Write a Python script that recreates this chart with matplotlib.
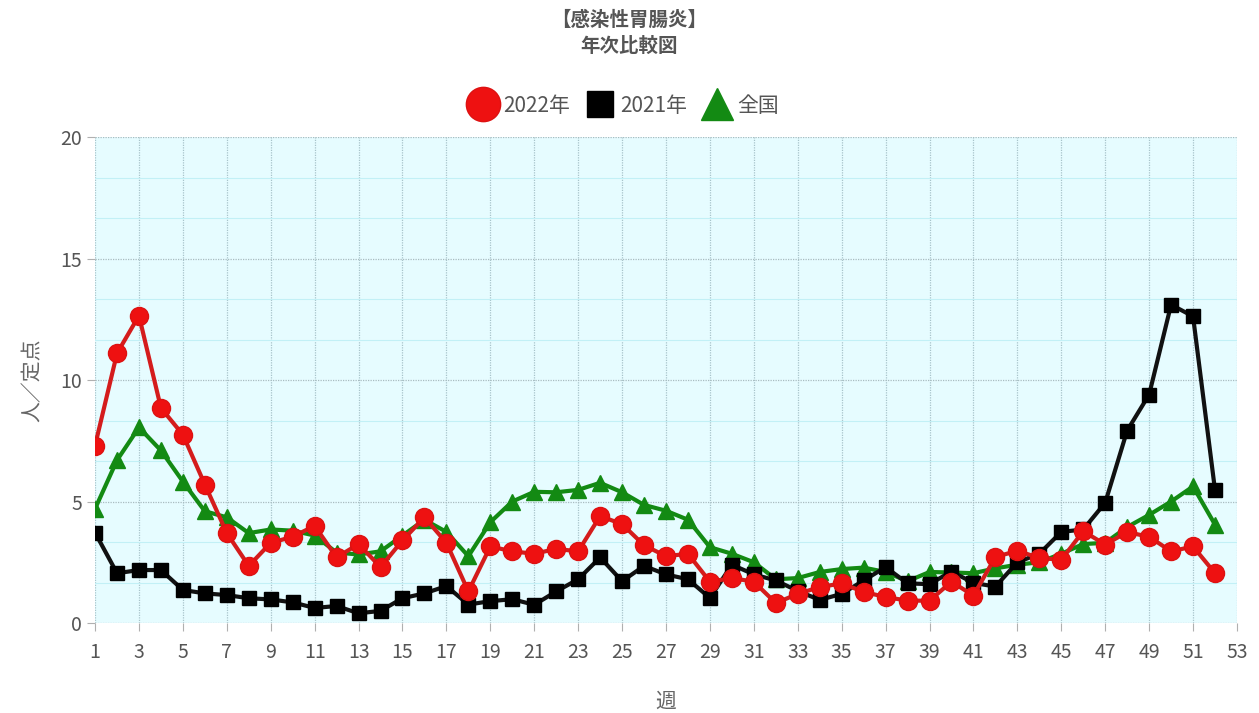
import matplotlib
matplotlib.use("Agg")
import matplotlib.pyplot as plt
from matplotlib.ticker import MultipleLocator

plt.rcParams['font.family'] = ['Noto Sans CJK JP', 'DejaVu Sans']

weeks = list(range(1, 53))

# 2022年 (red circles)
y2022 = [7.3, 11.1, 12.65, 8.85, 7.75, 5.7, 3.7, 2.35, 3.3, 3.55,
         4.0, 2.7, 3.25, 2.3, 3.4, 4.35, 3.3, 1.3, 3.15, 2.95,
         2.85, 3.05, 2.95, 4.4, 4.07, 3.2, 2.75, 2.85, 1.7, 1.85,
         1.7, 0.82, 1.2, 1.48, 1.63, 1.28, 1.07, 0.92, 0.92, 1.7,
         1.13, 2.72, 2.97, 2.68, 2.6, 3.78, 3.23, 3.74, 3.55, 2.95,
         3.15, 2.05]

# 2021年 (black squares)
y2021 = [3.72, 2.05, 2.18, 2.18, 1.36, 1.22, 1.15, 1.02, 0.97, 0.85,
         0.62, 0.7, 0.4, 0.5, 1.02, 1.22, 1.52, 0.76, 0.9, 0.98,
         0.75, 1.3, 1.8, 2.7, 1.72, 2.35, 2.0, 1.8, 1.03, 2.4,
         2.0, 1.75, 1.32, 0.95, 1.2, 1.75, 2.3, 1.63, 1.6, 2.12,
         1.65, 1.5, 2.5, 2.85, 3.75, 3.85, 4.95, 7.92, 9.4, 13.1,
         12.62, 5.47]

# 全国 (green triangles)
y_all = [4.7, 6.7, 8.05, 7.1, 5.82, 4.6, 4.35, 3.7, 3.85, 3.8,
         3.6, 2.9, 2.82, 2.95, 3.6, 4.25, 3.75, 2.75, 4.15, 5.0,
         5.4, 5.38, 5.48, 5.77, 5.38, 4.86, 4.62, 4.25, 3.12, 2.85,
         2.5, 1.8, 1.85, 2.1, 2.22, 2.28, 2.1, 1.72, 2.1, 2.08,
         2.05, 2.25, 2.4, 2.5, 2.85, 3.25, 3.3, 3.95, 4.45, 5.0,
         5.62, 4.05]

xticks = list(range(1, 54, 2))

fig = plt.figure(figsize=(12.59, 7.13), dpi=100)
ax = fig.add_axes([0.0755, 0.1262, 0.907, 0.6816])
ax.set_facecolor('#e6fcff')

ax.plot(weeks, y_all, color='#138a13', lw=3, marker='^', ms=12,
        mfc='#138a13', mec='#138a13', label='全国', zorder=3)
ax.plot(weeks, y2021, color='#111111', lw=3, marker='s', ms=10,
        mfc='#000000', mec='#000000', label='2021年', zorder=4)
ax.plot(weeks, y2022, color='#d41c1c', lw=3, marker='o', ms=13,
        mfc='#ee1111', mec='#dd1111', label='2022年', zorder=5)

ax.set_xlim(1, 53)
ax.set_ylim(0, 20)
ax.set_xticks(xticks)
ax.yaxis.set_major_locator(MultipleLocator(5))
ax.yaxis.set_minor_locator(MultipleLocator(5 / 3))
ax.grid(axis='x', which='major', color='#a8c4ca', lw=0.9, ls=(0, (1, 1)))
ax.grid(axis='y', which='major', color='#a9bcc0', lw=0.9, ls=(0, (1, 1)))
ax.grid(axis='y', which='minor', color='#c2f0f6', lw=0.8)
ax.set_axisbelow(True)
for s in ax.spines.values():
    s.set_visible(False)
ax.tick_params(axis='both', which='major', colors='#b0b0b0', length=6,
               labelcolor='#555555', labelsize=14)
ax.tick_params(axis='x', pad=8)
ax.tick_params(axis='y', which='minor', length=0)

ax.set_ylabel('人／定点', fontsize=15, color='#666666', labelpad=12)
ax.set_xlabel('週', fontsize=15, color='#666666', labelpad=20)

fig.text(0.5, 0.972, '【感染性胃腸炎】', ha='center', va='center',
         fontsize=14, fontweight='bold', color='#555555')
fig.text(0.5, 0.935, '年次比較図', ha='center', va='center',
         fontsize=14, fontweight='bold', color='#555555')

h, l = ax.get_legend_handles_labels()
order = [2, 1, 0]
leg = fig.legend([h[i] for i in order], [l[i] for i in order],
                 loc='center', bbox_to_anchor=(0.497, 0.852), ncol=3,
                 frameon=False, fontsize=15, handlelength=1.0,
                 handletextpad=0.5, columnspacing=0.9, markerscale=1.9)
for t in leg.get_texts():
    t.set_color('#555555')
for lh in leg.legend_handles:
    lh.set_linestyle('none')

fig.savefig('out.png', dpi=100)
